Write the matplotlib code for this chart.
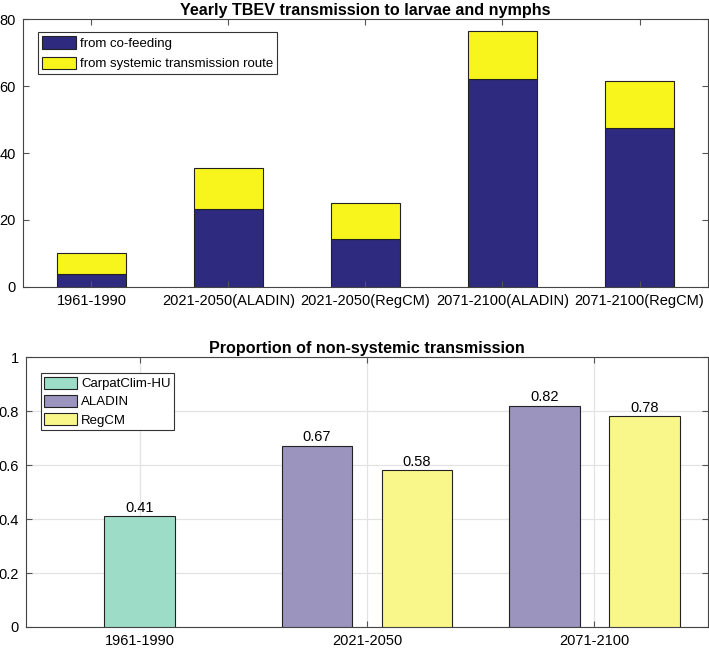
import numpy as np
import matplotlib
matplotlib.use('Agg')
import matplotlib.pyplot as plt

plt.rcParams['font.family'] = ['Liberation Sans', 'DejaVu Sans']

# Верхний график: годовая передача ВКЭ
periods_top = ['1961-1990', '2021-2050(ALADIN)', '2021-2050(RegCM)',
               '2071-2100(ALADIN)', '2071-2100(RegCM)']
cofeeding = [3.9, 23.3, 14.4, 62.2, 47.6]
systemic = [6.2, 12.3, 10.7, 14.2, 14.0]

# Нижний график: доля несистемной передачи
periods_bot = ['1961-1990', '2021-2050', '2071-2100']
carpat = [0.41]
aladin = [0.67, 0.82]
regcm = [0.58, 0.78]

navy = '#2E2A80'
yel = '#F8F51C'
c_carpat = '#9DDCC6'
c_aladin = '#9A94BE'
c_regcm = '#FAF78A'
edge = '#222222'

fig = plt.figure(figsize=(7.09, 6.49), dpi=100)

# ---- верх ----
ax1 = fig.add_axes([0.0324, 0.5578, 0.9662, 0.4129])
x = np.arange(1, len(periods_top) + 1)
ax1.bar(x, cofeeding, 0.5, color=navy, edgecolor=edge, linewidth=0.8,
        label='from co-feeding')
ax1.bar(x, systemic, 0.5, bottom=cofeeding, color=yel, edgecolor=edge,
        linewidth=0.8, label='from systemic transmission route')
ax1.set_xlim(0.5, 5.5)
ax1.set_ylim(0, 80)
ax1.set_yticks([0, 20, 40, 60, 80])
ax1.set_xticks(x)
ax1.set_xticklabels(periods_top)
ax1.set_title('Yearly TBEV transmission to larvae and nymphs',
              fontsize=11.6, fontweight='bold', pad=3)
leg1 = ax1.legend(loc='upper left', bbox_to_anchor=(0.022, 0.95), fontsize=9.5,
                  fancybox=False, edgecolor='#333333', framealpha=1,
                  borderpad=0.3, handlelength=2.6, handleheight=1.05,
                  handletextpad=0.3, labelspacing=0.5, borderaxespad=0)
leg1.get_frame().set_linewidth(0.8)

# ---- низ ----
ax2 = fig.add_axes([0.0367, 0.0339, 0.9619, 0.416])
xb = np.arange(1, len(periods_bot) + 1)
off = 0.22
w = 0.31
ax2.bar(xb[:1], carpat, w, color=c_carpat, edgecolor=edge, linewidth=0.8,
        label='CarpatClim-HU', zorder=3)
ax2.bar(xb[1:] - off, aladin, w, color=c_aladin, edgecolor=edge, linewidth=0.8,
        label='ALADIN', zorder=3)
ax2.bar(xb[1:] + off, regcm, w, color=c_regcm, edgecolor=edge, linewidth=0.8,
        label='RegCM', zorder=3)
for xi, v in zip(xb[:1], carpat):
    ax2.text(xi, v + 0.006, f'{v:.2f}', ha='center', va='bottom', fontsize=10.5, zorder=4)
for xi, v in zip(xb[1:] - off, aladin):
    ax2.text(xi, v + 0.006, f'{v:.2f}', ha='center', va='bottom', fontsize=10.5, zorder=4)
for xi, v in zip(xb[1:] + off, regcm):
    ax2.text(xi, v + 0.006, f'{v:.2f}', ha='center', va='bottom', fontsize=10.5, zorder=4)
ax2.set_xlim(0.5, 3.5)
ax2.set_ylim(0, 1)
ax2.set_yticks([0, 0.2, 0.4, 0.6, 0.8, 1])
ax2.set_yticklabels(['0', '0.2', '0.4', '0.6', '0.8', '1'])
ax2.set_xticks(xb)
ax2.set_xticklabels(periods_bot)
ax2.grid(True, color='#E3E3E3', linewidth=0.9, zorder=0)
ax2.set_axisbelow(True)
ax2.set_title('Proportion of non-systemic transmission',
              fontsize=11.6, fontweight='bold', pad=3)
leg2 = ax2.legend(loc='upper left', bbox_to_anchor=(0.022, 0.94), fontsize=9.5,
                  fancybox=False, edgecolor='#333333', framealpha=1,
                  borderpad=0.25, handlelength=2.5, handleheight=1.05,
                  handletextpad=0.3, labelspacing=0.35, borderaxespad=0)
leg2.get_frame().set_linewidth(0.8)

for ax in (ax1, ax2):
    for s in ax.spines.values():
        s.set_color('#444444')
        s.set_linewidth(0.8)
    ax.tick_params(direction='in', length=4, width=0.8, color='#555555',
                   labelsize=10.5, top=True, right=True, pad=5)

fig.savefig('out.png', dpi=100)
